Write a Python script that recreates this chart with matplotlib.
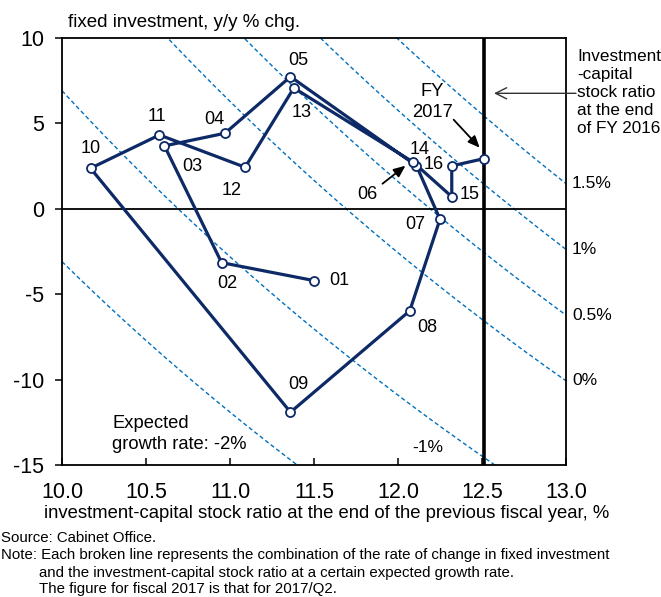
import matplotlib
matplotlib.use('Agg')
import matplotlib.pyplot as plt
from matplotlib.transforms import offset_copy
import numpy as np

plt.rcParams['font.family'] = ['Liberation Sans', 'DejaVu Sans']
plt.rcParams['axes.unicode_minus'] = False

# fiscal year labels and points
years = ['01', '02', '03', '04', '05', '06', '07', '08', '09', '10',
         '11', '12', '13', '14', '15', '16', '17']
ik_ratio = [11.50, 10.95, 10.61, 10.97, 11.36, 12.11, 12.25, 12.07, 11.36, 10.17,
            10.58, 11.09, 11.38, 12.09, 12.32, 12.32, 12.51]
invest_chg = [-4.21, -3.16, 3.67, 4.41, 7.72, 2.51, -0.62, -5.98, -11.91, 2.36,
              4.31, 2.42, 7.06, 2.72, 0.70, 2.50, 2.92]

# expected growth rates of the broken lines, and depreciation rate (%)
growth_rates = [-2, -1, 0, 0.5, 1, 1.5]
right_labelled = [1.5, 1, 0.5, 0]
depreciation = 11.69
ik_fy2016 = 12.51

xticks = [10.0, 10.5, 11.0, 11.5, 12.0, 12.5, 13.0]
yticks = [-15, -10, -5, 0, 5, 10]

navy = '#0d2a66'
blue = '#0070c0'

# label offsets in pixels (x right, y up)
label_off = {'01': (25, 0), '02': (6, -21), '03': (28, -21), '04': (-11, 14),
             '05': (8, 16), '06': (-49, -29), '07': (-25, -5), '08': (18, -17),
             '09': (8, 28), '10': (0, 20), '11': (-3, 18), '12': (-13, -23),
             '13': (8, -25), '14': (7, 13), '15': (18, 2), '16': (-18, 1)}

fig = plt.figure(figsize=(6.61, 5.97), dpi=100)
W, H = 661, 597
ax = fig.add_axes([62 / W, 1 - 465 / H, 504 / W, 427.3 / H])

xs = np.linspace(10, 13, 400)
for g in growth_rates:
    ax.plot(xs, 100 * ((g + depreciation) / xs - 1), color=blue, lw=1.0,
            ls=(0, (3, 2)), zorder=1)

ax.axhline(0, color='black', lw=1.3, zorder=2)
ax.axvline(ik_fy2016, color='black', lw=2.6, zorder=2)

ax.plot(ik_ratio, invest_chg, color=navy, lw=2.3, marker='o', ms=6.5,
        mfc='white', mec=navy, mew=1.3, zorder=4, solid_joinstyle='round')

for lab, x, y in zip(years, ik_ratio, invest_chg):
    if lab in label_off:
        ax.annotate(lab, (x, y), xytext=label_off[lab], textcoords='offset pixels',
                    ha='center', va='center', fontsize=13, zorder=5)

for g in right_labelled:
    ax.annotate(f'{g:g}%', (13, 100 * ((g + depreciation) / 13 - 1)), xytext=(6, 0),
                textcoords='offset pixels', ha='left', va='center', fontsize=12.6,
                annotation_clip=False)

ax.text(12.18, -14.0, '-1%', ha='center', va='center', fontsize=12.5)
ax.text(10.30, -13.2, 'Expected\ngrowth rate: -2%', ha='left', va='center',
        fontsize=13.2, linespacing=1.3)


def arrow_to(i, tip, tail):
    tr = offset_copy(ax.transData, fig=fig, x=tip[0], y=tip[1], units='dots')
    ax.annotate('', xy=(ik_ratio[i], invest_chg[i]), xycoords=tr,
                xytext=(tail[0] - tip[0], tail[1] - tip[1]), textcoords='offset pixels',
                arrowprops=dict(arrowstyle='-|>,head_length=0.7,head_width=0.3',
                                mutation_scale=10, color='black', lw=1.3,
                                shrinkA=0, shrinkB=0), zorder=6)


arrow_to(5, (-11, 0), (-34, -18))
arrow_to(16, (-4, 11), (-30, 39))
ax.annotate('FY\n2017', (ik_ratio[16], invest_chg[16]), xytext=(-51, 57),
            textcoords='offset pixels', ha='center', va='center', fontsize=13.2,
            linespacing=1.28)

ax.set_xlim(10, 13)
ax.set_ylim(-15, 10)
ax.set_xticks(xticks)
ax.set_xticklabels([f'{t:.1f}' for t in xticks])
ax.set_yticks(yticks)
ax.set_yticklabels([str(t) for t in yticks])
ax.tick_params(axis='x', direction='in', length=5, width=1.1, labelsize=15.5, pad=12)
ax.tick_params(axis='y', direction='out', length=5, width=1.1, labelsize=15.5, pad=8)
for s in ax.spines.values():
    s.set_linewidth(1.3)

# annotation for the end-FY2016 line
ax.annotate('', xy=(494, H - 93.3), xycoords='figure pixels',
            xytext=(576, H - 93.3), textcoords='figure pixels',
            arrowprops=dict(arrowstyle='->,head_length=0.8,head_width=0.4',
                            mutation_scale=10, color='#333333', lw=1.0,
                            shrinkA=0, shrinkB=0))
fig.text(577 / W, 1 - 92.5 / H, 'Investment\n-capital\nstock ratio\nat the end\nof FY 2016',
         ha='left', va='center', fontsize=12.3, linespacing=1.27)

fig.text(68 / W, 1 - 27 / H, 'fixed investment, y/y % chg.', ha='left',
         va='baseline', fontsize=13.5)
fig.text(327 / W, 1 - 514 / H,
         'investment-capital stock ratio at the end of the previous fiscal year, %',
         ha='center', va='center', fontsize=13.3)

fig.text(1 / W, 1 - 541.7 / H, 'Source: Cabinet Office.', ha='left',
         va='baseline', fontsize=10.8)
fig.text(1 / W, 1 - 559.3 / H,
         'Note: Each broken line represents the combination of the rate of change in fixed investment',
         ha='left', va='baseline', fontsize=10.8)
fig.text(39 / W, 1 - 576.7 / H,
         'and the investment-capital stock ratio at a certain expected growth rate.',
         ha='left', va='baseline', fontsize=10.8)
fig.text(39 / W, 1 - 593.3 / H, 'The figure for fiscal 2017 is that for 2017/Q2.',
         ha='left', va='baseline', fontsize=10.8)

fig.savefig('out.png', dpi=100)
